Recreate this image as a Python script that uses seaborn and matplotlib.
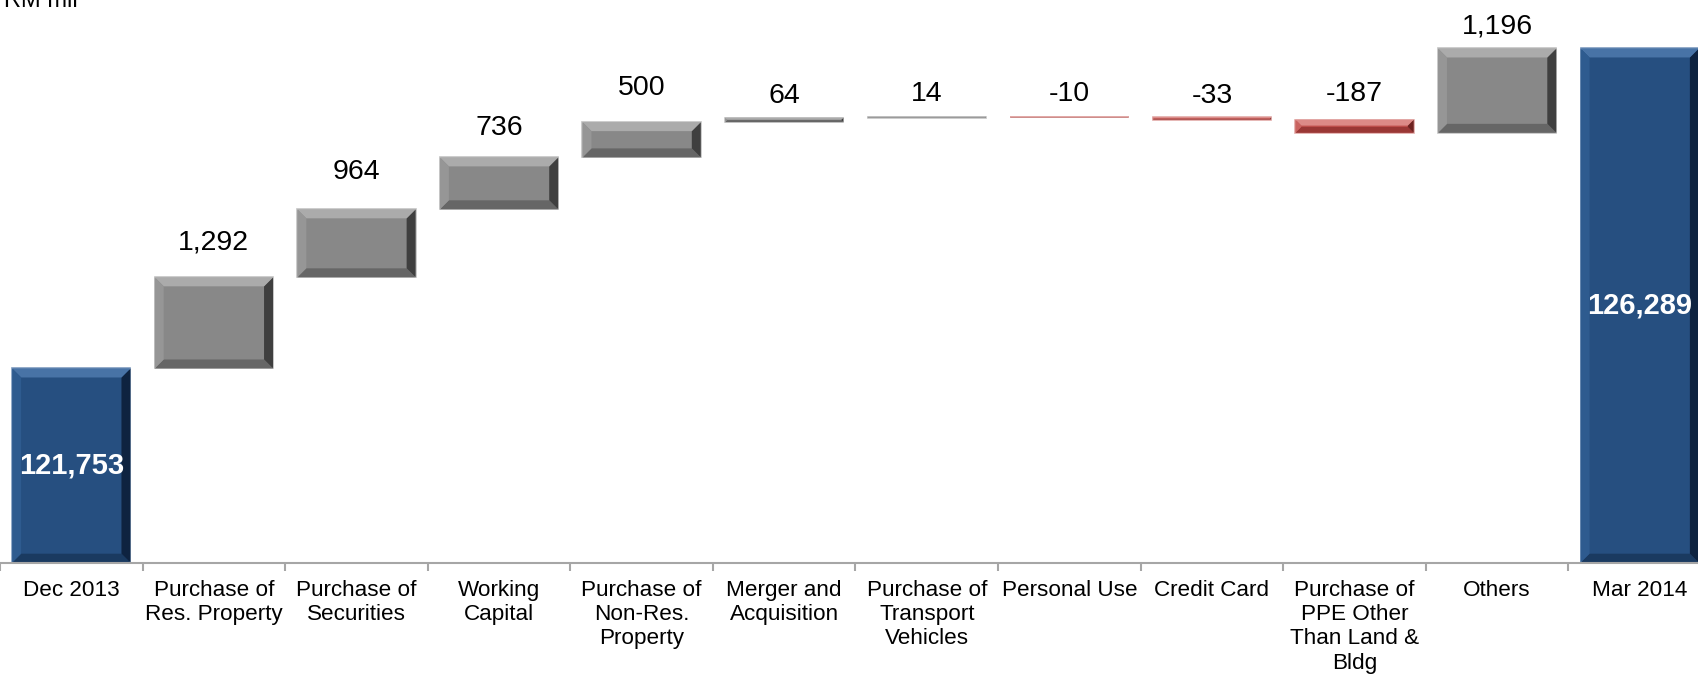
import numpy as np
import pandas as pd
import matplotlib
matplotlib.use("Agg")
import matplotlib.pyplot as plt
from matplotlib.patches import Polygon
import seaborn as sns

# ---- data -------------------------------------------------------------
categories = [
    "Dec 2013",
    "Purchase of\nRes. Property",
    "Purchase of\nSecurities",
    "Working\nCapital",
    "Purchase of\nNon-Res.\nProperty",
    "Merger and\nAcquisition",
    "Purchase of\nTransport\nVehicles",
    "Personal Use",
    "Credit Card",
    "Purchase of\nPPE Other\nThan Land &\nBldg",
    "Others",
    "Mar 2014",
]
start_total = 121753
changes = [1292, 964, 736, 500, 64, 14, -10, -33, -187, 1196]
end_total = 126289
value_labels = ["121,753", "1,292", "964", "736", "500", "64", "14",
                "-10", "-33", "-187", "1,196", "126,289"]
unit_label = "RM mil"
y_floor = 119000
y_ceiling = 126976

# gap (px) between each step bar's top and its label baseline
label_gap_px = [28, 30, 22, 27, 15, 16, 16, 14, 19, 15]

# ---- waterfall geometry ------------------------------------------------
running = start_total + np.concatenate([[0], np.cumsum(changes)])
bottoms = [0] + list(running[:-1]) + [0]
heights = [start_total] + list(changes) + [end_total]
kinds = ["total"] + ["up" if c >= 0 else "down" for c in changes] + ["total"]
df = pd.DataFrame({"category": categories, "height": heights})

palette = {
    "total": dict(face="#264F80", top="#4873A6", left="#2E5B8F",
                  right="#0E2340", bottom="#1A3A60", edge="#7F9CC0"),
    "up": dict(face="#888888", top="#ABABAB", left="#969696",
               right="#3F3F3F", bottom="#666666", edge="#C4C4C4"),
    "down": dict(face="#C0504D", top="#DC8A87", left="#C96360",
                 right="#6E2220", bottom="#9A3735", edge="#E2AAA8"),
}

sns.set_style("white")
plt.rcParams["font.family"] = ["Liberation Sans", "DejaVu Sans"]

W, H, DPI = 1698, 678, 100
fig = plt.figure(figsize=(W / DPI, H / DPI), dpi=DPI)
ax = fig.add_axes([0.0, 115.3 / H, 1711 / W, 1 - 115.3 / H])

sns.barplot(data=df, x="category", y="height", order=categories,
            bottom=bottoms, width=0.83, color="#888888",
            errorbar=None, ax=ax, zorder=2)

ax.set_xlim(-0.5, len(categories) - 0.5)
ax.set_ylim(y_floor, y_ceiling)

# colour each bar and add a bevelled rim
to_px = ax.transData
to_data = ax.transData.inverted()
for patch, kind in zip(ax.patches, kinds):
    c = palette[kind]
    patch.set_facecolor(c["face"])
    patch.set_edgecolor(c["edge"])
    patch.set_linewidth(1.2)
    x0, x1 = patch.get_x(), patch.get_x() + patch.get_width()
    ya = patch.get_y()
    yb = ya + patch.get_height()
    y0, y1 = max(min(ya, yb), y_floor), max(ya, yb)
    (px0, py0), (px1, py1) = to_px.transform([(x0, y0), (x1, y1)])
    b = min(9.0, 0.45 * (py1 - py0), 0.45 * (px1 - px0))
    outer = [(px0, py0), (px1, py0), (px1, py1), (px0, py1)]
    inner = [(px0 + b, py0 + b), (px1 - b, py0 + b),
             (px1 - b, py1 - b), (px0 + b, py1 - b)]
    sides = {
        "bottom": [outer[0], outer[1], inner[1], inner[0]],
        "right": [outer[1], outer[2], inner[2], inner[1]],
        "top": [outer[2], outer[3], inner[3], inner[2]],
        "left": [outer[3], outer[0], inner[0], inner[3]],
    }
    for side, pts in sides.items():
        ax.add_patch(Polygon(to_data.transform(pts), closed=True,
                             facecolor=c[side], edgecolor="none",
                             zorder=2.5))

# value labels
step = 0
for i, (kind, lab) in enumerate(zip(kinds, value_labels)):
    if kind == "total":
        mid = (max(bottoms[i], y_floor) + bottoms[i] + heights[i]) / 2
        ax.text(i, mid, lab, ha="center", va="center", color="white",
                fontsize=21, fontweight="bold", zorder=4)
    else:
        top = max(bottoms[i], bottoms[i] + heights[i])
        ax.annotate(lab, (i, top), xytext=(0, label_gap_px[step] * 0.72),
                    textcoords="offset points", ha="center", va="baseline",
                    fontsize=20.5, color="black", zorder=4)
        step += 1

# axes styling
for s in ["left", "top", "right"]:
    ax.spines[s].set_visible(False)
ax.spines["bottom"].set_color("#A6A6A6")
ax.spines["bottom"].set_linewidth(1.5)
ax.set_yticks([])
ax.set_xlabel("")
ax.set_ylabel("")
ax.set_xticks(np.arange(-0.5, len(categories), 1), minor=True)
ax.tick_params(axis="x", which="major", length=0, pad=12.5,
               labelsize=16.2, labelcolor="black")
ax.tick_params(axis="x", which="minor", length=6, width=1.5,
               color="#A6A6A6", direction="out", bottom=True)
for t in ax.get_xticklabels():
    t.set_linespacing(1.2)

fig.text(78 / W, 1 - 7 / H, unit_label, ha="right", va="baseline",
         fontsize=17, color="black")

fig.savefig("out.png", dpi=DPI)
